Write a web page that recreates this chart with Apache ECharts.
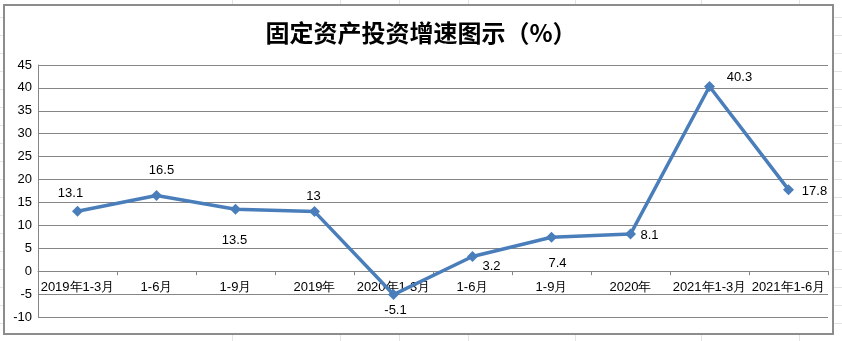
<!DOCTYPE html>
<html>
<head>
<meta charset="utf-8">
<script src="https://cdn.jsdelivr.net/npm/echarts@6/dist/echarts.min.js"></script>
<style>
  html, body { margin: 0; padding: 0; }
  body {
    width: 842px; height: 341px; position: relative; overflow: hidden;
    background-color: #fff;
    background-image: repeating-linear-gradient(to bottom, transparent 0 17px, #e3e3e3 17px 18px);
  }
  .col { position: absolute; top: 0; width: 1px; height: 341px; background: #e3e3e3; }
  #box {
    position: absolute; left: 3px; top: 4px; width: 827px; height: 327px;
    border: 2px solid #8c8c8c; background: #fff;
  }
  #chart { position: absolute; left: 0; top: 0; width: 842px; height: 341px; }
</style>
</head>
<body>
<div class="col" style="left:232px"></div>
<div class="col" style="left:340px"></div>
<div class="col" style="left:399px"></div>
<div class="col" style="left:468px"></div>
<div class="col" style="left:575px"></div>
<div class="col" style="left:701px"></div>
<div class="col" style="left:799px"></div>
<div id="box"></div>
<div id="chart"></div>
<script>
const categories = ['2019年1-3月', '1-6月', '1-9月', '2019年', '2020年1-3月', '1-6月', '1-9月', '2020年', '2021年1-3月', '2021年1-6月']
const growth = [13.1, 16.5, 13.5, 13, -5.1, 3.2, 7.4, 8.1, 40.3, 17.8]
const yMin = -10
const yMax = 45

// hand-placed label offsets, like in the original workbook
const labelOffsets = [[-7, -18], [5, -25], [-1, 31], [-1, -15], [2, 16], [19, 10], [6, 26], [19, 1], [30, -9], [26, 2]]

const chart = echarts.init(document.getElementById('chart'))

// category axis sits on the zero line, labels hang just below it
const gridTop = 65
const gridBottom = 24
const plotHeight = 341 - gridTop - gridBottom
const zeroShift = plotHeight * (0 - yMin) / (yMax - yMin)

const option = {
  animation: false,
  title: {
    text: '固定资产投资增速图示（%）',
    left: 'center',
    top: 16,
    textStyle: {
      fontFamily: 'Noto Sans CJK SC',
      fontSize: 24,
      fontWeight: 'bold',
      color: '#000'
    }
  },
  grid: {
    left: 38,
    right: 14,
    top: gridTop,
    bottom: gridBottom
  },
  xAxis: {
    type: 'category',
    data: categories,
    offset: -zeroShift,
    axisLine: { onZero: false, lineStyle: { color: '#868686', width: 1 } },
    axisTick: { show: true, interval: 0, length: 4, lineStyle: { color: '#868686' } },
    axisLabel: {
      interval: 0,
      margin: 10,
      color: '#000',
      fontFamily: 'Liberation Sans',
      fontSize: 13
    }
  },
  yAxis: {
    type: 'value',
    min: yMin,
    max: yMax,
    interval: 5,
    axisLine: { show: true, lineStyle: { color: '#868686' } },
    axisTick: { show: false },
    axisLabel: {
      margin: 6,
      color: '#000',
      fontFamily: 'Liberation Sans',
      fontSize: 13
    },
    splitLine: { lineStyle: { color: '#868686', width: 1 } }
  },
  series: [
    {
      type: 'line',
      data: growth.map((v, i) => ({
        value: v,
        label: { offset: labelOffsets[i] }
      })),
      symbol: 'diamond',
      symbolSize: 11,
      lineStyle: { color: '#4a7ebb', width: 3.5 },
      itemStyle: { color: '#4a7ebb' },
      label: {
        show: true,
        position: 'inside',
        color: '#000',
        fontFamily: 'Liberation Sans',
        fontSize: 13
      }
    }
  ]
}

chart.setOption(option)
</script>
</body>
</html>
